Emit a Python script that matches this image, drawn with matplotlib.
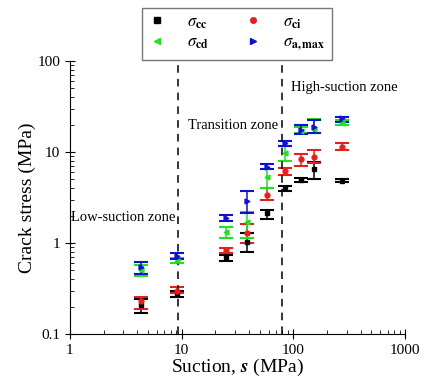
import numpy as np
import matplotlib.pyplot as plt
from matplotlib.lines import Line2D

plt.rcParams['font.family'] = ['Liberation Serif', 'DejaVu Serif']
plt.rcParams['mathtext.fontset'] = 'stix'

# suction (MPa) of each test group
suction = [4.3, 9.1, 24.9, 38.4, 58, 84, 117, 153, 272]

# crack stresses (MPa): value, lower bar, upper bar
cc = [0.21, 0.28, 0.70, 1.02, 2.15, 4.05, 4.9, 6.45, 4.84]
cc_lo = [0.17, 0.255, 0.64, 0.79, 1.83, 3.75, 4.7, 5.0, 4.65]
cc_hi = [0.24, 0.30, 0.74, 1.28, 2.3, 4.27, 5.2, 7.7, 5.05]

ci = [0.23, 0.30, 0.84, 1.30, 3.37, 6.2, 8.4, 8.9, 11.4]
ci_lo = [0.19, 0.285, 0.77, 1.0, 2.97, 5.6, 7.0, 7.6, 10.5]
ci_hi = [0.257, 0.33, 0.89, 1.6, 4.0, 6.6, 9.5, 10.5, 12.7]

cd = [0.50, 0.63, 1.31, 1.7, 5.35, 9.7, 17.0, 18.0, 20.7]
cd_lo = [0.43, 0.60, 1.13, 1.14, 4.0, 8.0, 16.0, 16.0, 20.0]
cd_hi = [0.57, 0.68, 1.49, 2.2, 6.5, 11.6, 19.0, 22.9, 22.5]

amax = [0.55, 0.72, 1.9, 2.9, 6.9, 12.6, 17.4, 18.7, 23.5]
amax_lo = [0.46, 0.66, 1.76, 2.15, 6.5, 11.6, 15.7, 16.0, 21.6]
amax_hi = [0.62, 0.77, 2.03, 3.75, 7.3, 13.2, 19.8, 22.4, 24.4]

series = [
    (cc, cc_lo, cc_hi, 'black', 's', r'$\sigma_{\mathbf{cc}}$'),
    (ci, ci_lo, ci_hi, '#e32020', 'o', r'$\sigma_{\mathbf{ci}}$'),
    (cd, cd_lo, cd_hi, '#22e022', '<', r'$\sigma_{\mathbf{cd}}$'),
    (amax, amax_lo, amax_hi, '#1010d0', '>', r'$\sigma_{\mathbf{a,max}}$'),
]

fig = plt.figure(figsize=(4.21, 3.79), dpi=100)
ax = fig.add_axes([0.166, 0.119, 0.796, 0.72])

handles = {}
for vals, lo, hi, col, mk, lab in series:
    v = np.array(vals)
    err = [v - np.array(lo), np.array(hi) - v]
    ax.errorbar(suction, v, yerr=err, fmt=mk, color=col, ms=3.5, capsize=5,
                elinewidth=1.1, capthick=1.5)
    handles[lab] = Line2D([], [], ls='none', marker=mk, color=col, ms=4)

ax.axvline(9.3, color='black', ls=(0, (5, 4)), lw=1.1)
ax.axvline(80, color='black', ls=(0, (5, 4)), lw=1.1)

ax.text(1.02, 1.75, 'Low-suction zone', fontsize=10.5, ha='left')
ax.text(11.5, 18, 'Transition zone', fontsize=10.5, ha='left')
ax.text(95, 47, 'High-suction zone', fontsize=10.5, ha='left')

ax.set_xscale('log')
ax.set_yscale('log')
ax.set_xlim(1, 1000)
ax.set_ylim(0.1, 100)
ax.set_xticks([1, 10, 100, 1000])
ax.set_xticklabels(['1', '10', '100', '1000'])
ax.set_yticks([0.1, 1, 10, 100])
ax.set_yticklabels(['0.1', '1', '10', '100'])
ax.tick_params(which='major', direction='inout', length=7, labelsize=11)
ax.tick_params(which='minor', direction='in', length=3)
ax.spines['top'].set_visible(False)
ax.spines['right'].set_visible(False)

ax.set_xlabel(r'Suction, $\mathbfit{s}$ (MPa)', fontsize=14, labelpad=0)
ax.set_ylabel('Crack stress (MPa)', fontsize=14, labelpad=1)

# legend order: row 1 cc, ci; row 2 cd, a,max (columns are filled first)
order = [series[0][5], series[2][5], series[1][5], series[3][5]]
fig.legend([handles[k] for k in order], order, loc='upper center',
           bbox_to_anchor=(0.562, 0.98), ncol=2, fontsize=12,
           frameon=True, fancybox=False, edgecolor='#555555',
           columnspacing=2.2, handletextpad=1.3, borderpad=0.4,
           labelspacing=0.25, handlelength=1.0, borderaxespad=0)

fig.savefig('out.png', dpi=100)
